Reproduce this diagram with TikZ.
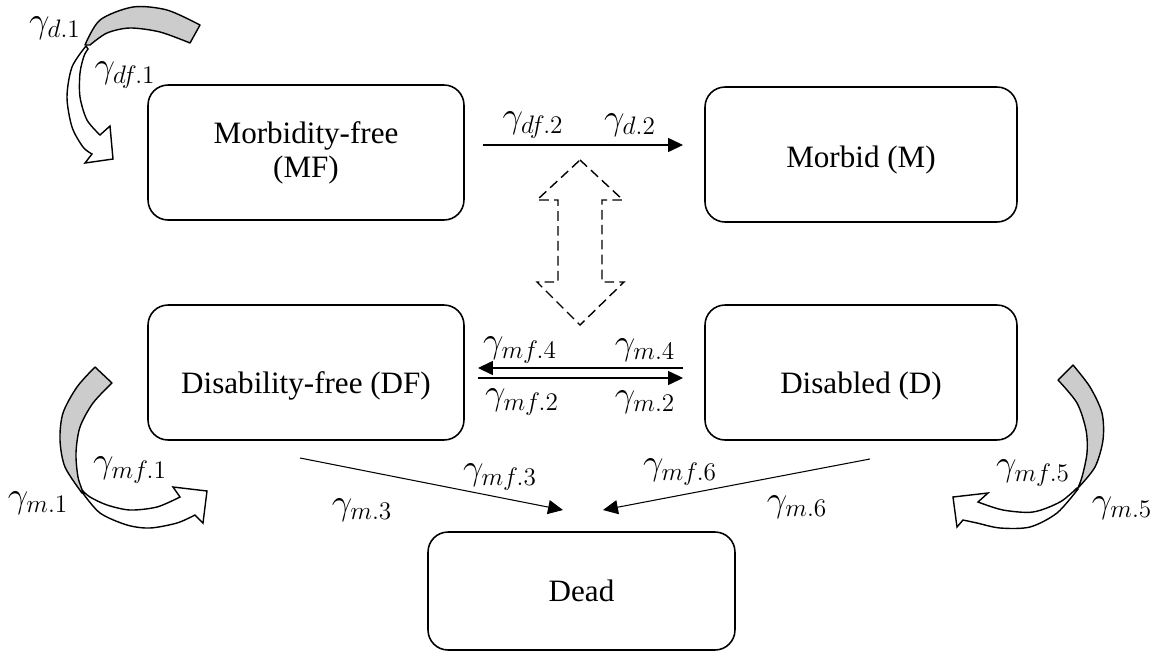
\documentclass[tikz,border=0pt]{standalone}
\usepackage{fontspec}
\setmainfont{Liberation Serif}
\newfontfamily\statefont{Liberation Serif}
\usetikzlibrary{arrows.meta,calc}
\begin{document}
\begin{tikzpicture}[x=0.02cm,y=-0.02cm,
  state/.style={draw, line width=0.9pt, rounded corners=0.4cm, inner sep=0pt,
    outer sep=0pt, align=center, font=\statefont\fontsize{17.7}{19.5}\selectfont},
  rate/.style={font=\fontsize{21}{24}\selectfont, inner sep=1pt},
  flow/.style={line width=0.6pt, -{Triangle[length=8.5pt,width=8pt]}},
  loopback/.style={fill=black!20, draw, line width=0.8pt, line join=round},
  loopfront/.style={fill=white, draw, line width=0.8pt, line join=miter},
  dashshape/.style={draw, line width=0.8pt, dash pattern=on 5.5pt off 3pt}]

\useasboundingbox (0,0) rectangle (1157,653);

% states
\node[state, minimum width=6.32cm, minimum height=2.7cm] (mf) at (306,152.5)
  {Morbidity-free\\(MF)};
\node[state, minimum width=6.24cm, minimum height=2.7cm, text height=19pt, text depth=4pt]
  (m) at (861,154.5) {Morbid (M)};
\node[state, minimum width=6.32cm, minimum height=2.7cm, text height=28pt, text depth=4pt]
  (df) at (306,372.5) {Disability-free (DF)};
\node[state, minimum width=6.24cm, minimum height=2.7cm, text height=28pt, text depth=4pt]
  (d) at (861,372.5) {Disabled (D)};
\node[state, minimum width=6.14cm, minimum height=2.36cm] (dead) at (581.5,591) {Dead};

% transitions
\draw[flow] ($(mf.east)+(19,-7.5)$) -- ($(m.west)+(-22,-9.5)$);
\draw[flow] ($(d.west)+(-22,-4.5)$) -- ($(df.east)+(14,-4.5)$);
\draw[flow] ($(df.east)+(14,5.5)$) -- ($(d.west)+(-22,5.5)$);
\draw[flow] ($(df.south)+(-6,18)$) -- ($(dead.north)+(-18.5,-22)$);
\draw[flow] ($(d.south)+(9,19)$) -- ($(dead.north)+(21.5,-22)$);

% dashed two-way block arrow between the upper and lower rows
\draw[dashshape] (580,160) -- (623,200) -- (602,200) -- (602,282) -- (624,282)
  -- (580,325) -- (537,282) -- (558,282) -- (558,200) -- (537,200) -- cycle;

% self-transition loop, upper left
\filldraw[loopback] plot[smooth] coordinates {(200,25) (167,10) (133,7) (100,20) (85,45)}
  -- plot[smooth] coordinates {(90,45) (107,33) (130,28) (160,32) (190,43)} -- cycle;
\filldraw[loopfront] plot[smooth] coordinates {(86,46) (72,67) (67,97) (72,127) (83,147) (92,154)}
  -- (85,163) -- (113,159) -- (110,126)
  -- plot[smooth] coordinates {(100,135) (87,120) (80,97) (80,73) (84,56) (88,49)} -- cycle;

% self-transition loop, lower left
\filldraw[loopback] plot[smooth] coordinates {(95,367) (77,387) (63,413) (60,440) (65,467) (82,493)}
  -- plot[smooth] coordinates {(83,492) (78,477) (76,453) (80,427) (93,403) (112,383)} -- cycle;
\filldraw[loopfront] plot[smooth] coordinates {(82,492) (100,513) (127,525) (150,528) (177,523) (195,515)}
  -- (203,523) -- (207,491) -- (173,487)
  -- plot[smooth] coordinates {(180,497) (157,507) (130,510) (107,505) (90,497) (83,491)} -- cycle;

% self-transition loop, lower right
\filldraw[loopback] plot[smooth] coordinates {(1073,365) (1090,387) (1102,413) (1103,440) (1095,467) (1078,488)}
  -- plot[smooth] coordinates {(1077,490) (1082,477) (1087,453) (1086,430) (1077,403) (1058,380)} -- cycle;
\filldraw[loopfront] plot[smooth] coordinates {(1078,489) (1057,513) (1030,527) (1000,528) (977,523) (963,520)}
  -- (957,527) -- (953,497) -- (988,493)
  -- plot[smooth] coordinates {(978,502) (1003,510) (1033,512) (1060,502) (1077,488)} -- cycle;

% rate labels
\node[rate] (gd1)  at (55,28)    {$\gamma_{d.1}$};
\node[rate] (gdf1) at (125,75)   {$\gamma_{df.1}$};
\node[rate] (gdf2) at (533,125)  {$\gamma_{df.2}$};
\node[rate] (gd2)  at (630,125)  {$\gamma_{d.2}$};
\node[rate] (gmf4) at (520,350)  {$\gamma_{mf.4}$};
\node[rate] (gm4)  at (645,350)  {$\gamma_{m.4}$};
\node[rate] (gmf2) at (522,402)  {$\gamma_{mf.2}$};
\node[rate] (gm2)  at (645,402)  {$\gamma_{m.2}$};
\node[rate] (gmf1) at (130,470)  {$\gamma_{mf.1}$};
\node[rate] (gm1)  at (38,503)   {$\gamma_{m.1}$};
\node[rate] (gmf3) at (500,477)  {$\gamma_{mf.3}$};
\node[rate] (gm3)  at (362,510)  {$\gamma_{m.3}$};
\node[rate] (gmf6) at (680,472)  {$\gamma_{mf.6}$};
\node[rate] (gm6)  at (797,507)  {$\gamma_{m.6}$};
\node[rate] (gmf5) at (1033,473) {$\gamma_{mf.5}$};
\node[rate] (gm5)  at (1122,508) {$\gamma_{m.5}$};
\end{tikzpicture}
\end{document}
